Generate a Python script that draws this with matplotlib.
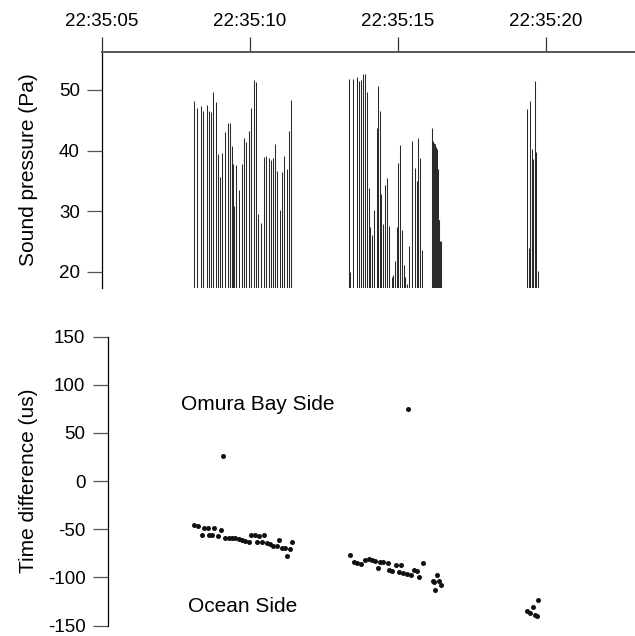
import matplotlib
matplotlib.use("Agg")
import matplotlib.pyplot as plt

plt.rcParams["font.family"] = ["Liberation Sans", "DejaVu Sans"]
plt.rcParams["axes.unicode_minus"] = False

# times are seconds after 22:35:00
pulse_t = [8.108, 8.220, 8.355, 8.422, 8.537, 8.605, 8.672, 8.740, 8.861, 8.929,
           8.997, 9.064, 9.145, 9.247, 9.314, 9.382, 9.436, 9.470, 9.537, 9.639,
           9.720, 9.787, 9.875, 9.956, 10.024, 10.135, 10.213, 10.280, 10.382, 10.463,
           10.541, 10.632, 10.699, 10.777, 10.855, 10.922, 11.003, 11.071, 11.149, 11.240,
           11.307, 11.385,
           13.328, 13.378, 13.490, 13.605, 13.672, 13.740, 13.807, 13.885, 13.953, 14.030,
           14.064, 14.132, 14.199, 14.280, 14.314, 14.382, 14.436, 14.493, 14.561, 14.628,
           14.706, 14.787, 14.821, 14.889, 14.956, 15.000, 15.068, 15.135, 15.193, 15.247,
           15.314, 15.382, 15.483, 15.564, 15.632, 15.676, 15.753, 15.821,
           16.159, 16.172, 16.193, 16.216, 16.240, 16.260, 16.284, 16.307, 16.328, 16.351,
           16.375, 16.395, 16.419, 16.443, 16.463,
           19.348, 19.416, 19.449, 19.517, 19.561, 19.618, 19.662, 19.740]
pulse_p = [48.2, 47.1, 47.3, 46.6, 47.5, 46.6, 46.4, 49.6, 48.0, 39.4,
           35.7, 39.6, 43.1, 44.6, 44.6, 40.8, 37.8, 30.9, 37.6, 33.5,
           37.7, 42.1, 41.4, 43.3, 47.0, 51.7, 51.3, 29.5, 28.0, 38.9,
           39.1, 38.7, 38.4, 38.7, 41.0, 36.6, 30.2, 36.5, 39.1, 37.0,
           43.3, 48.3,
           51.8, 20.0, 51.8, 52.2, 51.5, 51.7, 52.6, 52.6, 49.7, 33.8,
           27.4, 26.1, 30.2, 43.7, 50.7, 46.6, 32.8, 27.8, 34.3, 35.4,
           27.6, 19.1, 19.5, 21.7, 27.4, 37.9, 40.9, 26.9, 21.1, 19.2,
           18.0, 24.2, 41.5, 37.2, 35.0, 42.0, 38.7, 23.6,
           43.8, 41.3, 41.5, 41.3, 41.0, 41.0, 40.6, 40.2, 37.6, 37.0,
           28.5, 28.5, 25.0, 25.0, 17.8,
           46.8, 23.9, 48.1, 40.3, 38.6, 51.5, 39.7, 20.1]

dt_t = [8.108, 8.233, 8.378, 8.446, 8.581, 8.625, 8.716, 8.784, 8.919, 9.030,
        9.088, 9.166, 9.280, 9.392, 9.503, 9.618, 9.730, 9.841, 9.956, 10.024,
        10.159, 10.236, 10.314, 10.405, 10.483, 10.564, 10.676, 10.787, 10.902, 10.990,
        11.081, 11.193, 11.260, 11.351, 11.419,
        13.378, 13.514, 13.625, 13.760, 13.875, 14.010, 14.122, 14.213, 14.324, 14.392,
        14.503, 14.662, 14.686, 14.797, 14.932, 15.024, 15.111, 15.159, 15.294, 15.328,
        15.429, 15.541, 15.632, 15.699, 15.834, 16.172, 16.216, 16.260, 16.307, 16.375,
        16.463,
        19.348, 19.459, 19.571, 19.628, 19.696, 19.740]
dt_us = [-45.2, -46.5, -56.2, -48.6, -48.6, -56.2, -56.2, -48.6, -56.8, -50.6,
         26.3, -58.6, -59.6, -58.9, -59.6, -60.3, -61.3, -62.4, -63.0, -56.2,
         -56.2, -63.7, -57.5, -63.7, -56.2, -64.4, -65.8, -67.1, -67.1, -60.9,
         -69.2, -69.2, -78.1, -70.6, -63.7,
         -76.8, -84.3, -85.1, -85.7, -82.3, -81.2, -82.0, -83.0, -90.5, -83.6,
         -84.3, -85.1, -92.3, -93.9, -87.1, -94.6, -87.1, -95.4, -96.0, 74.4,
         -97.4, -91.9, -93.3, -100.1, -85.1, -103.6, -105.0, -113.2, -97.4, -104.2,
         -108.4,
         -135.2, -136.6, -131.0, -138.7, -140.3, -123.4]

time_ticks = [5, 10, 15, 20]
time_labels = ["22:35:05", "22:35:10", "22:35:15", "22:35:20"]
p_ticks = [20, 30, 40, 50]
dt_ticks = [-150, -100, -50, 0, 50, 100, 150]

fig = plt.figure(figsize=(6.35, 6.36), dpi=100)
W, H = 635, 636
x0 = 5.0
x1 = 5.0 + 533 / 29.6

# top panel: sound pressure
ax1 = fig.add_axes([102 / W, 1 - 288 / H, 533 / W, 236 / H])
p_bottom = 17.31
ax1.vlines(pulse_t, p_bottom, pulse_p, color="#2a2a2a", linewidth=0.75)
ax1.set_xlim(x0, x1)
ax1.set_ylim(p_bottom, 56.27)
ax1.spines["right"].set_visible(False)
ax1.spines["bottom"].set_visible(False)
ax1.spines["top"].set_color("#555555")
ax1.spines["top"].set_linewidth(1.4)
ax1.spines["left"].set_linewidth(0.9)
ax1.xaxis.tick_top()
ax1.set_xticks(time_ticks)
ax1.set_xticklabels(time_labels)
ax1.set_yticks(p_ticks)
ax1.tick_params(axis="x", direction="out", length=11, width=0.9, pad=5,
                labelsize=13.5, color="#333333")
ax1.tick_params(axis="y", direction="out", length=10.5, width=0.9, pad=5.5,
                labelsize=13.5, color="#555555")
ax1.set_ylabel("Sound pressure (Pa)", fontsize=15)
ax1.yaxis.set_label_coords(-0.12, 0.5)

# bottom panel: time difference
ax2 = fig.add_axes([102 / W, 1 - 625.5 / H, 533 / W, 288.8 / H])
ax2.plot(dt_t, dt_us, "o", color="#111111", markersize=3.6, markeredgewidth=0)
ax2.set_xlim(x0, x1)
ax2.set_ylim(-150, 150)
for s in ["top", "right", "bottom"]:
    ax2.spines[s].set_visible(False)
ax2.spines["left"].set_position(("data", 5.0 + 5.7 / 29.6))
ax2.spines["left"].set_linewidth(0.9)
ax2.set_xticks([])
ax2.set_yticks(dt_ticks)
ax2.tick_params(axis="y", direction="out", length=10.5, width=0.9, pad=5.5,
                labelsize=13.5, color="#555555")
ax2.set_ylabel("Time difference (us)", fontsize=15)
ax2.yaxis.set_label_coords(-0.12, 0.5)
ax2.text(10.27, 80, "Omura Bay Side", ha="center", va="center", fontsize=15)
ax2.text(9.76, -130, "Ocean Side", ha="center", va="center", fontsize=15)

fig.savefig("out.png", dpi=100)
